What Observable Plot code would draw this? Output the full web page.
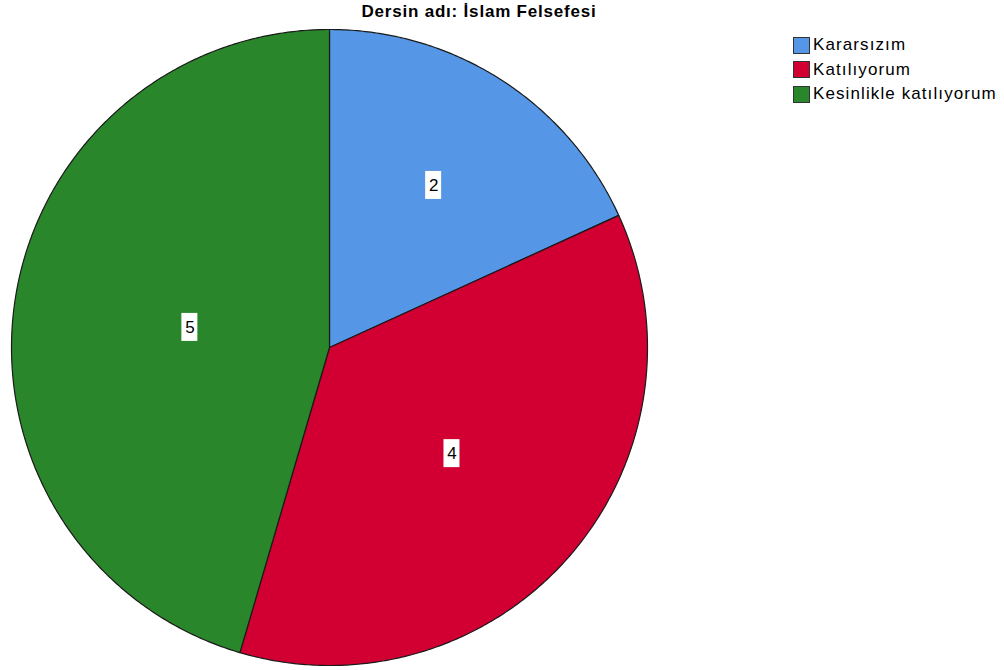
<!DOCTYPE html>
<html><head><meta charset="utf-8">
<script src="https://cdn.jsdelivr.net/npm/d3@7"></script>
<script src="https://cdn.jsdelivr.net/npm/@observablehq/plot@0.6"></script>
<style>
html,body{margin:0;padding:0;background:#fff;}
body{font-family:"Liberation Sans",Arial,sans-serif;color:#000;}
#wrap{position:relative;width:1004px;height:670px;overflow:hidden;}
#chart{position:absolute;left:0;top:0;}
#title{position:absolute;top:3px;left:0;width:958px;text-align:center;font-weight:bold;font-size:17px;letter-spacing:0.8px;line-height:18px;}
#legend{position:absolute;left:793px;top:33px;}
.item{display:flex;align-items:center;height:24.5px;font-size:17px;letter-spacing:1.1px;white-space:nowrap;}
.sw{width:15px;height:15px;border:1px solid #333;margin-right:3px;box-sizing:content-box;}
</style>
</head><body>
<div id="wrap">
  <div id="chart"></div>
  <div id="title"></div>
  <div id="legend"></div>
</div>
<script>
const titleText = "Dersin adı: İslam Felsefesi";
const categories = ["Kararsızım", "Katılıyorum", "Kesinlikle katılıyorum"];
const counts = [2, 4, 5];
const colors = ["#5596E6", "#D20032", "#2A862A"];

document.getElementById("title").textContent = titleText;
const legend = document.getElementById("legend");
categories.forEach((c, i) => {
  const it = document.createElement("div");
  it.className = "item";
  const sw = document.createElement("div");
  sw.className = "sw";
  sw.style.background = colors[i];
  const tx = document.createElement("span");
  tx.textContent = c;
  it.appendChild(sw); it.appendChild(tx);
  legend.appendChild(it);
});

// pie geometry from data (angles clockwise from top)
const total = d3.sum(counts);
let acc = 0;
const slices = categories.map((c, i) => {
  const a0 = acc / total * 2 * Math.PI;
  acc += counts[i];
  const a1 = acc / total * 2 * Math.PI;
  return {key: c, value: counts[i], a0, a1};
});
const pts = [];
for (const s of slices) {
  pts.push({key: s.key, x: 0, y: 0});
  const n = Math.max(2, Math.ceil((s.a1 - s.a0) / (Math.PI / 360)));
  for (let k = 0; k <= n; k++) {
    const a = s.a0 + (s.a1 - s.a0) * k / n;
    pts.push({key: s.key, x: Math.sin(a), y: -Math.cos(a)});
  }
  pts.push({key: s.key, x: 0, y: 0});
}
// label near sector centroid
const labels = slices.map(s => {
  const h = (s.a1 - s.a0) / 2, m = (s.a0 + s.a1) / 2;
  const d = 0.96 * 2 * Math.sin(h) / (3 * h);
  return {key: s.key, value: s.value, x: d * Math.sin(m), y: -d * Math.cos(m)};
});

const cx = 329, cy = 347, R = 318;
const bw = 8 / R, bh = 14 / R;
const plot = Plot.plot({
  width: 1004, height: 670,
  margin: 0,
  x: {domain: [-1, 1], range: [cx - R, cx + R], axis: null},
  y: {domain: [-1, 1], range: [cy - R, cy + R], axis: null},
  color: {domain: categories, range: colors},
  marks: [
    Plot.line(pts, {x: "x", y: "y", z: "key", fill: "key", stroke: "#1a1a1a", strokeWidth: 1.2, strokeLinejoin: "round"}),
    Plot.rect(labels, {x1: d => d.x - bw, x2: d => d.x + bw, y1: d => d.y - bh, y2: d => d.y + bh, fill: "white"}),
    Plot.text(labels, {x: "x", y: "y", text: d => String(d.value), fontSize: 17, fill: "black", fontFamily: "Liberation Sans, Arial, sans-serif"})
  ]
});
document.getElementById("chart").appendChild(plot);
</script>
</body></html>
